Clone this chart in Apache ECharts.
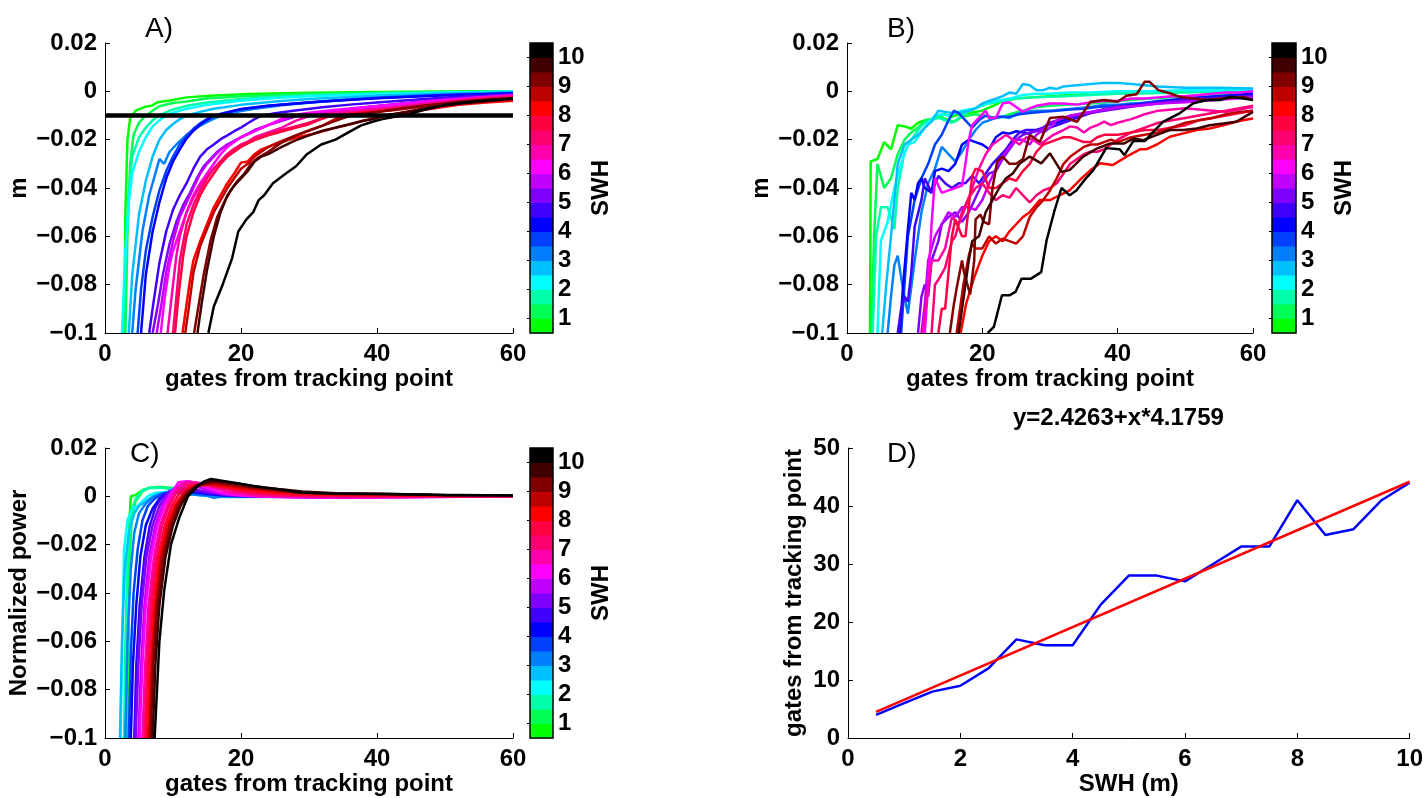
<!DOCTYPE html>
<html><head><meta charset="utf-8">
<script src="https://cdn.jsdelivr.net/npm/echarts@6/dist/echarts.min.js"></script>
<style>html,body{margin:0;padding:0;background:#fff}#c{width:1426px;height:798px}</style>
</head><body><div id="c"></div><script>
// ---------------- data ----------------
const SWH = [0.5,1,1.5,2,2.5,3,3.5,4,4.5,5,5.5,6,6.5,7,7.5,8,8.5,9,9.5,10];
const SWH_COLORS = ['#00ff00','#00ff55','#00ffaa','#00ffff','#00bfff','#0080ff','#0040ff','#0000ff','#4000ff','#8000ff',
  '#bf00ff','#ff00ff','#ff00aa','#ff0070','#ff0040','#ff0000','#bf0000','#800000','#400000','#000000'];
const CBAR_RANGE = [0.5, 10.5];
const CBAR_TICKS = [1,2,3,4,5,6,7,8,9,10];
const GATE_TICKS = [0,20,40,60];
const M_TICKS = [-0.1,-0.08,-0.06,-0.04,-0.02,0,0.02];
const THRESHOLD_LINE = [[0,-0.01],[60,-0.01]];

const A_CURVES = [
[[2.8,-0.1],[3.0,-0.05],[3.3,-0.02],[3.7,-0.011],[4.5,-0.008],[5.8,-0.0065],[7,-0.0058],[7.7,-0.0045],[9.5,-0.0038],[12,-0.0025],[15.4,-0.0018],[21,-0.0011],[30,-0.0006],[40,-0.0003],[50,-0.0001],[60,0]],
[[3.0,-0.1],[3.3,-0.06],[3.7,-0.03],[4.2,-0.018],[5,-0.013],[6,-0.01],[7,-0.008],[8,-0.0062],[10,-0.0048],[12,-0.0042],[15,-0.003],[20,-0.002],[30,-0.0011],[40,-0.0006],[50,-0.0003],[60,-0.0001]],
[[2.6,-0.1],[3,-0.07],[3.5,-0.042],[4,-0.027],[5,-0.019],[6,-0.015],[7,-0.012],[8,-0.01],[9,-0.0086],[10,-0.0075],[12,-0.006],[15,-0.0046],[20,-0.0032],[25,-0.0022],[30,-0.0016],[40,-0.0009],[50,-0.0004],[60,-0.0001]],
[[2.5,-0.1],[3,-0.066],[3.5,-0.046],[4,-0.034],[5,-0.025],[6,-0.019],[7,-0.0145],[8,-0.012],[9,-0.01],[10,-0.0088],[12,-0.0072],[15,-0.0056],[20,-0.0039],[25,-0.0028],[30,-0.002],[40,-0.0011],[50,-0.0006],[60,-0.0002]],
[[3.5,-0.1],[4,-0.076],[5,-0.051],[6,-0.037],[7,-0.027],[8,-0.02],[9,-0.016],[10,-0.0135],[11,-0.0115],[12,-0.01],[14,-0.0085],[16,-0.0072],[20,-0.0056],[25,-0.0042],[30,-0.0032],[40,-0.0018],[50,-0.0009],[60,-0.0004]],
[[4,-0.1],[4.5,-0.082],[5.5,-0.058],[6.5,-0.043],[7.5,-0.033],[8,-0.028],[8.7,-0.03],[9.5,-0.025],[10.5,-0.022],[12,-0.018],[13,-0.016],[14,-0.0142],[15.5,-0.012],[17,-0.01],[19,-0.0087],[22,-0.0072],[26,-0.0058],[30,-0.0047],[35,-0.0036],[40,-0.0026],[50,-0.0013],[60,-0.0006]],
[[4.8,-0.1],[5.3,-0.082],[6,-0.066],[7,-0.052],[8,-0.041],[9,-0.033],[10,-0.027],[11,-0.022],[12,-0.0185],[13,-0.0155],[14,-0.0132],[15,-0.0115],[16,-0.01],[18,-0.0086],[20,-0.0074],[24,-0.006],[28,-0.005],[32,-0.0041],[40,-0.0028],[50,-0.0015],[60,-0.0008]],
[[5.3,-0.1],[6,-0.076],[7,-0.058],[8,-0.046],[9,-0.036],[10,-0.029],[11,-0.024],[12,-0.0195],[13,-0.0163],[14,-0.0138],[15,-0.0118],[16,-0.0102],[18,-0.0087],[20,-0.0073],[24,-0.006],[28,-0.005],[32,-0.0042],[40,-0.0029],[50,-0.0016],[60,-0.0009]],
[[6.5,-0.1],[7.2,-0.086],[8,-0.071],[9,-0.058],[10,-0.049],[11,-0.043],[12,-0.038],[13,-0.032],[14,-0.027],[15,-0.024],[16,-0.022],[17,-0.0198],[18,-0.0182],[19,-0.0165],[20,-0.015],[21,-0.0132],[22,-0.0115],[23,-0.0101],[25,-0.0091],[28,-0.0079],[32,-0.0066],[36,-0.0055],[40,-0.0046],[45,-0.0036],[50,-0.0026],[60,-0.0012]],
[[7,-0.1],[7.8,-0.088],[8.5,-0.076],[9.5,-0.063],[10.5,-0.054],[11.5,-0.047],[12.5,-0.042],[13.5,-0.036],[14.5,-0.031],[15.5,-0.028],[16.5,-0.025],[18,-0.022],[20,-0.019],[22,-0.016],[24,-0.014],[26,-0.012],[28,-0.0102],[31,-0.0089],[35,-0.0076],[40,-0.0061],[45,-0.0046],[50,-0.0033],[55,-0.0023],[60,-0.0015]],
[[7.6,-0.1],[8.3,-0.088],[9,-0.075],[10,-0.062],[11,-0.052],[12,-0.046],[13,-0.04],[14,-0.034],[15,-0.03],[16,-0.027],[17,-0.024],[18,-0.022],[20,-0.019],[22,-0.0165],[24,-0.014],[26,-0.0122],[28,-0.0104],[31,-0.009],[35,-0.0077],[40,-0.0062],[45,-0.0048],[50,-0.0036],[55,-0.0026],[60,-0.0017]],
[[8.2,-0.1],[8.8,-0.085],[9.5,-0.072],[10,-0.066],[11,-0.058],[12,-0.05],[13,-0.043],[14,-0.038],[15,-0.034],[16,-0.03],[17,-0.026],[18,-0.023],[19,-0.021],[20,-0.019],[22,-0.0165],[24,-0.014],[25.5,-0.012],[27,-0.0102],[30,-0.0089],[34,-0.0076],[40,-0.0061],[45,-0.0048],[50,-0.0036],[55,-0.0026],[60,-0.0016]],
[[9.2,-0.1],[9.8,-0.085],[10.5,-0.068],[11,-0.06],[12,-0.05],[13,-0.044],[14,-0.039],[15,-0.035],[16,-0.032],[17,-0.029],[18,-0.026],[19,-0.024],[20,-0.022],[21,-0.021],[22,-0.019],[24,-0.017],[26,-0.015],[28,-0.0122],[30,-0.0102],[33,-0.0091],[37,-0.0079],[42,-0.0066],[47,-0.0051],[52,-0.0036],[56,-0.0026],[60,-0.0019]],
[[10,-0.1],[10.5,-0.085],[11,-0.07],[12,-0.055],[13,-0.047],[14,-0.041],[15,-0.036],[16,-0.032],[17,-0.029],[18,-0.026],[19,-0.0238],[20,-0.0222],[21,-0.0208],[22,-0.0195],[24,-0.0176],[26,-0.016],[28,-0.0145],[30,-0.013],[31.5,-0.0115],[33,-0.0101],[36,-0.0091],[40,-0.0079],[45,-0.0063],[50,-0.0046],[55,-0.0033],[60,-0.0023]],
[[10.3,-0.1],[10.8,-0.085],[11.5,-0.068],[12,-0.06],[13,-0.05],[14,-0.043],[15,-0.038],[16,-0.034],[17,-0.03],[18,-0.027],[19,-0.025],[20,-0.023],[21,-0.0215],[22,-0.0202],[24,-0.0182],[26,-0.0166],[28,-0.0151],[30,-0.0136],[31.5,-0.0118],[33,-0.0103],[36,-0.0093],[40,-0.0081],[45,-0.0066],[50,-0.0051],[55,-0.0038],[60,-0.0028]],
[[11.4,-0.1],[12,-0.088],[12.5,-0.078],[13,-0.07],[14,-0.062],[15,-0.055],[16,-0.048],[17,-0.043],[18,-0.038],[19,-0.034],[20,-0.0295],[21,-0.029],[22,-0.026],[23,-0.024],[24,-0.023],[26,-0.021],[28,-0.0192],[30,-0.018],[32,-0.0165],[34,-0.015],[36,-0.0136],[38,-0.0122],[40,-0.0109],[41,-0.0101],[44,-0.0088],[48,-0.0072],[52,-0.0056],[56,-0.0046],[60,-0.0039]],
[[11.8,-0.1],[12.3,-0.09],[13,-0.075],[14,-0.064],[15,-0.057],[16,-0.05],[17,-0.045],[18,-0.04],[19,-0.036],[20,-0.032],[21,-0.03],[22,-0.027],[23,-0.025],[24,-0.023],[26,-0.0205],[28,-0.0183],[30,-0.0162],[32,-0.0142],[34,-0.0113],[35,-0.0101],[38,-0.009],[42,-0.0079],[46,-0.0066],[50,-0.0052],[55,-0.0039],[60,-0.0031]],
[[13.1,-0.1],[13.8,-0.088],[14.5,-0.076],[15.5,-0.062],[16.5,-0.052],[17.5,-0.046],[18.5,-0.041],[19.5,-0.037],[20.5,-0.034],[21.5,-0.03],[22.5,-0.0275],[24,-0.025],[26,-0.0212],[28,-0.0183],[30,-0.0162],[32,-0.0142],[34,-0.0121],[36,-0.0101],[40,-0.0086],[44,-0.0069],[48,-0.0056],[52,-0.0043],[56,-0.0034],[60,-0.0028]],
[[13.6,-0.1],[14.2,-0.088],[15,-0.074],[16,-0.06],[17,-0.05],[18,-0.043],[19,-0.039],[20,-0.036],[21,-0.033],[22,-0.029],[23,-0.027],[24,-0.026],[26,-0.023],[28,-0.0203],[30,-0.0182],[32,-0.0163],[34,-0.015],[36,-0.0136],[38,-0.0122],[40,-0.0111],[41,-0.0101],[44,-0.0086],[48,-0.0066],[52,-0.0051],[56,-0.0041],[60,-0.0031]],
[[15.2,-0.1],[16,-0.089],[17.3,-0.08],[18.7,-0.069],[19.6,-0.058],[20.8,-0.053],[21.8,-0.05],[22.6,-0.045],[23.4,-0.043],[24.7,-0.038],[26.6,-0.034],[28.1,-0.031],[29.7,-0.026],[31.8,-0.022],[33.9,-0.02],[35.8,-0.017],[37.6,-0.0142],[39.2,-0.0127],[40.8,-0.0115],[42.4,-0.0106],[44,-0.0099],[47,-0.0076],[50,-0.0056],[54,-0.0043],[57,-0.0036],[60,-0.0031]]
];

const B_CURVES = [
[[3.4,-0.1],[3.5,-0.029],[4.5,-0.028],[5.5,-0.021],[6.5,-0.024],[7.5,-0.014],[8.5,-0.0145],[9.5,-0.0155],[10.5,-0.013],[11.5,-0.012],[12.5,-0.0115],[13.5,-0.01],[14.5,-0.0095],[15.5,-0.0105],[16.5,-0.0095],[18,-0.009],[19,-0.0085],[20,-0.008],[22,-0.0055],[23,-0.004],[25,-0.003],[27,-0.0025],[30,-0.002],[33,-0.0015],[36,-0.001],[40,-0.0008],[45,-0.0005],[50,-0.0002],[55,0],[60,0.0005]],
[[3.6,-0.1],[4,-0.06],[4.5,-0.03],[5.5,-0.04],[6.5,-0.036],[7.5,-0.026],[8.5,-0.02],[9.5,-0.017],[10.5,-0.015],[11.5,-0.012],[12.5,-0.0115],[13.5,-0.01],[15,-0.012],[16,-0.0125],[17,-0.0105],[18,-0.01],[19,-0.0095],[20,-0.01],[21,-0.0105],[22,-0.011],[23,-0.0105],[24,-0.0095],[26,-0.008],[28,-0.0065],[30,-0.006],[33,-0.0055],[36,-0.005],[40,-0.004],[45,-0.003],[50,-0.002],[55,-0.001],[60,0]],
[[3.8,-0.1],[4.3,-0.06],[5,-0.048],[6,-0.048],[7,-0.057],[7.5,-0.04],[8.5,-0.025],[9.5,-0.02],[10.5,-0.016],[11.5,-0.013],[12.5,-0.012],[13.5,-0.011],[14.5,-0.012],[15.5,-0.013],[16.5,-0.011],[17.5,-0.009],[19,-0.007],[21,-0.005],[23,-0.004],[25,-0.003],[28,-0.0025],[32,-0.002],[36,-0.0015],[40,-0.001],[45,-0.0008],[50,-0.0005],[55,0],[60,0.0005]],
[[4.5,-0.1],[5,-0.062],[6,-0.054],[7,-0.04],[8,-0.03],[9,-0.022],[10,-0.021],[11,-0.017],[12,-0.013],[13,-0.01],[14,-0.0095],[15,-0.01],[16,-0.009],[17,-0.008],[18,-0.0075],[19,-0.007],[20,-0.0055],[22,-0.004],[24,-0.003],[26,-0.0015],[28,-0.001],[30,-0.001],[33,-0.0005],[36,-0.0005],[40,0],[45,0],[50,0.0005],[55,0.0005],[60,0.0005]],
[[5.2,-0.1],[5.8,-0.08],[6.5,-0.06],[7.5,-0.03],[8.5,-0.022],[9.5,-0.02],[10.5,-0.018],[11.5,-0.015],[12.5,-0.0125],[13.5,-0.008],[14.5,-0.0085],[15.5,-0.009],[16.5,-0.009],[18,-0.008],[19,-0.007],[20,-0.005],[21,-0.004],[22,-0.003],[23,-0.002],[24,-0.0005],[25,-0.001],[26,0.003],[27,0.0025],[28,0.0005],[29,0.0005],[30,0.0015],[31,0.001],[32,0.002],[34,0.0025],[36,0.003],[38,0.0035],[40,0.0035],[42,0.003],[44,0.0025],[46,0.002],[50,0.0015],[55,0.0015],[60,0.0012]],
[[6,-0.1],[6.5,-0.085],[7,-0.072],[7.5,-0.068],[8,-0.077],[8.5,-0.085],[9,-0.092],[10,-0.07],[11,-0.05],[12,-0.038],[13,-0.032],[14,-0.023],[15,-0.026],[16,-0.029],[17,-0.025],[18,-0.02],[19,-0.016],[20,-0.013],[21,-0.012],[22,-0.011],[23,-0.0105],[24,-0.011],[25,-0.0095],[26,-0.0085],[28,-0.008],[30,-0.008],[32,-0.0075],[34,-0.007],[36,-0.0065],[38,-0.0055],[40,-0.0055],[42,-0.005],[44,-0.005],[46,-0.0045],[48,-0.004],[50,-0.003],[55,-0.002],[60,-0.001]],
[[8,-0.1],[9,-0.06],[10,-0.045],[11,-0.036],[12,-0.03],[13,-0.022],[14,-0.018],[15,-0.012],[15.8,-0.008],[16.5,-0.009],[17.5,-0.012],[18.5,-0.015],[19.5,-0.012],[20.5,-0.01],[21.5,-0.011],[22.5,-0.0105],[24,-0.0105],[25.5,-0.0095],[27,-0.009],[29,-0.0085],[31,-0.008],[33,-0.0075],[35,-0.0072],[37,-0.0065],[40,-0.006],[43,-0.005],[46,-0.004],[50,-0.003],[55,-0.002],[60,-0.0012]],
[[7.8,-0.1],[8.3,-0.08],[9,-0.057],[9.5,-0.042],[10,-0.045],[10.5,-0.038],[11,-0.036],[11.5,-0.04],[12.5,-0.042],[13,-0.033],[14,-0.032],[15,-0.033],[16,-0.03],[17,-0.022],[18,-0.02],[19,-0.021],[20,-0.022],[21,-0.024],[22,-0.019],[23,-0.017],[24,-0.0175],[25,-0.0165],[26,-0.017],[27,-0.0175],[28,-0.016],[29,-0.015],[30,-0.0135],[31,-0.013],[32,-0.012],[33,-0.011],[35,-0.0095],[37,-0.008],[40,-0.0065],[43,-0.0055],[46,-0.0045],[50,-0.003],[55,-0.002],[60,-0.001]],
[[7.5,-0.1],[8,-0.09],[8.5,-0.085],[9,-0.087],[9.5,-0.075],[10,-0.056],[11,-0.045],[11.5,-0.036],[12.5,-0.042],[13.5,-0.035],[14.5,-0.038],[15.5,-0.04],[16.5,-0.038],[17.5,-0.038],[18.5,-0.035],[19.5,-0.038],[20.5,-0.034],[21.5,-0.03],[22.5,-0.027],[23.5,-0.024],[24.5,-0.02],[25.5,-0.017],[26.5,-0.016],[28,-0.016],[29,-0.017],[30,-0.015],[32,-0.013],[34,-0.011],[36,-0.009],[38,-0.0075],[40,-0.0065],[43,-0.0055],[46,-0.0045],[50,-0.0035],[55,-0.0025],[60,-0.0018]],
[[10.5,-0.1],[11,-0.085],[11.5,-0.08],[12,-0.085],[12.5,-0.07],[13.5,-0.062],[14,-0.055],[15,-0.052],[16,-0.05],[17,-0.054],[18,-0.05],[19,-0.044],[20,-0.038],[21,-0.034],[22,-0.033],[23,-0.028],[24,-0.024],[25,-0.02],[26,-0.018],[27,-0.017],[28,-0.0165],[29,-0.015],[30,-0.013],[31,-0.012],[32,-0.011],[33,-0.0105],[34,-0.01],[36,-0.009],[38,-0.008],[40,-0.0072],[43,-0.006],[46,-0.005],[50,-0.004],[55,-0.003],[60,-0.002]],
[[11,-0.1],[11.5,-0.088],[12,-0.07],[13,-0.06],[14,-0.055],[15,-0.05],[16,-0.052],[17,-0.048],[18,-0.048],[19,-0.049],[20,-0.045],[21,-0.038],[22,-0.032],[23,-0.027],[24,-0.023],[25,-0.02],[26,-0.02],[27,-0.022],[28,-0.018],[29,-0.016],[30,-0.015],[31,-0.012],[32,-0.011],[33,-0.01],[35,-0.009],[37,-0.008],[40,-0.0065],[43,-0.006],[46,-0.005],[50,-0.0045],[55,-0.0035],[60,-0.0025]],
[[11.5,-0.1],[12,-0.08],[12.5,-0.055],[13,-0.036],[14,-0.042],[15,-0.041],[16,-0.04],[17,-0.039],[17.5,-0.03],[18,-0.02],[18.5,-0.014],[19.5,-0.011],[20.5,-0.008],[21,-0.011],[22,-0.011],[23,-0.005],[24,-0.0045],[25,-0.0065],[26,-0.0085],[27,-0.007],[28,-0.006],[30,-0.005],[32,-0.005],[34,-0.0055],[36,-0.0045],[38,-0.004],[40,-0.004],[42,-0.003],[44,-0.003],[46,-0.0025],[48,-0.002],[50,-0.002],[52,-0.0015],[54,-0.001],[56,-0.0005],[58,-0.0005],[60,0]],
[[11.2,-0.1],[11.8,-0.085],[12.5,-0.07],[13.5,-0.07],[14.5,-0.065],[15.5,-0.052],[16.5,-0.055],[17.5,-0.048],[18.5,-0.04],[19.5,-0.032],[20.5,-0.026],[21.5,-0.022],[22.5,-0.02],[23.5,-0.018],[24.5,-0.02],[25.5,-0.022],[26.5,-0.019],[27.5,-0.02],[28.5,-0.022],[29.5,-0.02],[30.5,-0.018],[32,-0.016],[33,-0.0145],[34,-0.015],[35,-0.017],[36,-0.015],[37,-0.014],[38,-0.0125],[39,-0.014],[40,-0.013],[42,-0.0115],[44,-0.0095],[46,-0.008],[48,-0.0075],[50,-0.007],[52,-0.0075],[54,-0.008],[56,-0.0085],[58,-0.0075],[60,-0.0065]],
[[12.5,-0.1],[13,-0.08],[13.5,-0.078],[14.5,-0.073],[15.5,-0.062],[16,-0.06],[17,-0.05],[18,-0.044],[19,-0.04],[20,-0.038],[21,-0.042],[22,-0.045],[23,-0.043],[24,-0.044],[25,-0.04],[26,-0.043],[27,-0.046],[28,-0.043],[29,-0.041],[30,-0.04],[31,-0.038],[32,-0.034],[33,-0.03],[34,-0.028],[35,-0.026],[36,-0.025],[37,-0.025],[38,-0.024],[39,-0.022],[40,-0.02],[42,-0.017],[44,-0.015],[46,-0.013],[48,-0.012],[50,-0.011],[52,-0.01],[54,-0.009],[56,-0.008],[58,-0.007],[60,-0.006]],
[[13.5,-0.1],[14,-0.09],[14.5,-0.09],[15,-0.075],[15.5,-0.06],[16,-0.053],[17,-0.06],[17.5,-0.06],[18.5,-0.035],[19,-0.032],[20,-0.033],[21,-0.04],[22,-0.04],[23,-0.038],[24,-0.036],[25,-0.037],[26,-0.033],[27,-0.03],[28,-0.025],[29,-0.022],[30,-0.021],[31,-0.02],[32,-0.019],[33,-0.019],[34,-0.02],[35,-0.021],[36,-0.021],[37,-0.019],[38,-0.018],[40,-0.018],[42,-0.017],[44,-0.016],[46,-0.016],[48,-0.015],[50,-0.014],[52,-0.012],[54,-0.011],[56,-0.01],[58,-0.009],[60,-0.008]],
[[16.8,-0.1],[17.6,-0.088],[18.8,-0.077],[20,-0.068],[21,-0.062],[22,-0.06],[23,-0.062],[24,-0.058],[25,-0.055],[26,-0.052],[27,-0.05],[28.5,-0.045],[30,-0.045],[31.4,-0.043],[32.9,-0.041],[34.4,-0.0367],[36,-0.0326],[37.4,-0.0298],[39.3,-0.0305],[41.3,-0.027],[43.3,-0.024],[44.2,-0.024],[45.8,-0.022],[47.7,-0.0188],[49.7,-0.0174],[51.7,-0.016],[53.6,-0.0154],[55.6,-0.014],[57.5,-0.0126],[58.5,-0.012],[60,-0.0112]],
[[16.2,-0.1],[16.7,-0.09],[17.2,-0.08],[18,-0.068],[18.5,-0.063],[19,-0.065],[20,-0.065],[21,-0.06],[22,-0.063],[23,-0.061],[24,-0.062],[25,-0.063],[26,-0.06],[27,-0.052],[28,-0.048],[29,-0.045],[30,-0.041],[31,-0.036],[32,-0.03],[33,-0.027],[34,-0.025],[35,-0.023],[36,-0.022],[37,-0.022],[38,-0.021],[39,-0.02],[40,-0.021],[41,-0.02],[42,-0.019],[44,-0.018],[46,-0.017],[48,-0.015],[50,-0.013],[52,-0.012],[54,-0.011],[56,-0.0095],[58,-0.0085],[60,-0.008]],
[[15.2,-0.1],[15.8,-0.088],[16.3,-0.08],[17,-0.07],[17.3,-0.075],[18.2,-0.084],[18.8,-0.07],[19,-0.053],[19.7,-0.051],[20.2,-0.054],[21,-0.055],[21.5,-0.04],[22.2,-0.029],[23,-0.027],[24,-0.03],[25,-0.03],[26,-0.028],[27,-0.018],[28.5,-0.021],[30,-0.011],[32,-0.0105],[34,-0.0126],[36,-0.0043],[38,-0.0036],[40,-0.0043],[41.3,-0.0018],[42.8,-0.0012],[44,0.004],[44.7,0.004],[46,0.0005],[47.7,-0.0008],[49.2,-0.0023],[51.2,-0.003],[53.2,-0.0036],[55.1,-0.003],[58.6,-0.0023],[60,-0.0036]],
[[16.5,-0.1],[17,-0.09],[17.5,-0.08],[18,-0.07],[18.5,-0.062],[19.5,-0.06],[20.5,-0.05],[21.5,-0.045],[22.5,-0.04],[23.5,-0.036],[24.5,-0.034],[25.5,-0.03],[27,-0.027],[28.7,-0.0298],[30,-0.0257],[31.7,-0.0333],[32.9,-0.0326],[34.9,-0.027],[36.9,-0.0237],[38.9,-0.0216],[40.9,-0.0216],[42.4,-0.0195],[43.8,-0.0202],[45.8,-0.018],[47.7,-0.016],[49.7,-0.016],[51.7,-0.0154],[53.6,-0.014],[55.6,-0.0133],[57.5,-0.0126],[58.5,-0.011],[60,-0.0085]],
[[20.8,-0.1],[21.7,-0.0975],[22.9,-0.0844],[24,-0.0844],[24.9,-0.083],[25.8,-0.0775],[27.2,-0.0775],[28.7,-0.0748],[29.5,-0.0616],[30.7,-0.049],[31.7,-0.04],[32.9,-0.043],[33.9,-0.041],[35.1,-0.0367],[36.4,-0.0326],[38.3,-0.0235],[40.3,-0.024],[41,-0.0264],[42.3,-0.0206],[44,-0.0206],[45.3,-0.0167],[46.7,-0.0126],[49.2,-0.009],[51.2,-0.0049],[53.2,-0.0036],[55.1,-0.0036],[56.6,-0.0022],[58.6,-0.003],[60,-0.0036]]
];

const C_CURVES = [
[[3.4,-0.1],[3.5,-0.05],[3.6,-0.01],[3.8,0],[4.5,0.0005],[5.5,0.0025],[6.5,0.0035],[8,0.0038],[10,0.0032],[12,0.0025],[15,0.0015],[20,0.0008],[30,0.0003],[45,0.0001],[60,0]],
[[3.2,-0.1],[3.4,-0.06],[3.6,-0.025],[4,-0.008],[4.5,-0.002],[5.5,0.002],[6.5,0.0035],[8,0.004],[10,0.0035],[12,0.0025],[15,0.0015],[20,0.0008],[30,0.0003],[45,0.0001],[60,0]],
[[2.8,-0.1],[3,-0.06],[3.3,-0.025],[3.7,-0.008],[4.5,-0.001],[5.5,0.0025],[6.5,0.0035],[8,0.0035],[10,0.003],[12,0.002],[15,0.0012],[20,0.0006],[30,0.0002],[60,0]],
[[2.3,-0.1],[2.6,-0.05],[2.8,-0.022],[3.3,-0.01],[4,-0.005],[4.8,-0.004],[5.5,-0.002],[6.5,0.0005],[7.5,0.0015],[9,0.0018],[11,0.0015],[13,0.001],[16,0.0006],[20,0.0003],[30,0.0001],[60,0]],
[[2.2,-0.1],[2.5,-0.06],[2.9,-0.03],[3.5,-0.015],[4.3,-0.007],[5,-0.004],[6,-0.002],[7,0],[8,0.0012],[10,0.0015],[12,0.001],[14,0.0004],[16,0],[18,-0.0003],[22,-0.0003],[30,-0.0002],[45,0],[60,0]],
[[3.0,-0.1],[3.3,-0.06],[3.8,-0.03],[4.3,-0.015],[5,-0.007],[6,-0.003],[7,-0.0005],[8,0.0008],[9,0.0015],[11,0.0015],[13,0.0008],[15,0.0002],[16,-0.0006],[17,-0.0002],[20,-0.0002],[30,-0.0002],[45,0],[60,0]],
[[3.5,-0.1],[3.8,-0.065],[4.2,-0.04],[4.8,-0.022],[5.5,-0.01],[6.3,-0.004],[7.3,-0.001],[8.5,0.0012],[10,0.0018],[12,0.0018],[14,0.001],[17,0.0003],[20,0],[30,-0.0002],[45,0],[60,0]],
[[3.8,-0.1],[4.1,-0.07],[4.6,-0.045],[5.2,-0.025],[6,-0.012],[7,-0.005],[8,-0.001],[9,0.0012],[10.5,0.002],[12,0.002],[14,0.0015],[17,0.0006],[20,0.0002],[30,0],[60,0]],
[[4.3,-0.1],[4.6,-0.07],[5.1,-0.045],[5.8,-0.025],[6.6,-0.012],[7.5,-0.004],[8.5,0],[9.5,0.0022],[11,0.0028],[12.5,0.0025],[14.5,0.0015],[17,0.0006],[20,0.0001],[30,-0.0002],[60,0]],
[[4.5,-0.1],[4.9,-0.07],[5.4,-0.045],[6.1,-0.025],[7,-0.012],[8,-0.004],[9,0.0005],[10,0.0028],[11.5,0.0035],[13,0.003],[15,0.0018],[18,0.0006],[22,0],[30,-0.0004],[45,-0.0002],[60,0]],
[[4.9,-0.1],[5.3,-0.07],[5.8,-0.045],[6.5,-0.025],[7.4,-0.012],[8.4,-0.004],[9.4,0.0008],[10.5,0.0042],[12,0.0048],[13.5,0.004],[15.5,0.0022],[18,0.0008],[22,0],[30,-0.0005],[40,-0.0005],[50,-0.0002],[60,0]],
[[5.1,-0.1],[5.5,-0.07],[6,-0.045],[6.8,-0.025],[7.7,-0.012],[8.7,-0.004],[9.7,0.001],[10.8,0.0058],[12,0.0062],[13.5,0.0055],[15,0.0035],[17,0.0015],[20,0.0003],[25,-0.0003],[35,-0.0006],[45,-0.0004],[60,0]],
[[5.5,-0.1],[5.9,-0.07],[6.4,-0.045],[7.2,-0.025],[8.1,-0.012],[9.1,-0.004],[10.1,0.0015],[11.2,0.0052],[12.5,0.006],[14,0.0055],[16,0.0035],[18,0.0018],[21,0.0006],[25,0],[35,-0.0004],[45,-0.0002],[60,0]],
[[5.8,-0.1],[6.2,-0.07],[6.7,-0.045],[7.5,-0.025],[8.4,-0.012],[9.4,-0.004],[10.5,0.0015],[11.7,0.0045],[13,0.0052],[14.5,0.005],[16.5,0.0038],[19,0.0022],[22,0.001],[26,0.0003],[35,0],[60,0]],
[[6.0,-0.1],[6.4,-0.07],[7,-0.045],[7.8,-0.025],[8.8,-0.012],[9.8,-0.004],[10.9,0.001],[12.2,0.004],[13.7,0.0048],[15.3,0.0048],[17.5,0.0038],[20,0.0025],[23,0.0015],[27,0.0008],[35,0.0003],[60,0.0001]],
[[6.3,-0.1],[6.7,-0.07],[7.3,-0.045],[8.1,-0.025],[9.1,-0.012],[10.2,-0.004],[11.3,0.0005],[12.6,0.0035],[14,0.0045],[15.5,0.005],[17.5,0.0042],[20,0.003],[23,0.0022],[27,0.0014],[32,0.0008],[40,0.0005],[50,0.0003],[60,0.0002]],
[[6.5,-0.1],[6.9,-0.07],[7.5,-0.045],[8.3,-0.025],[9.4,-0.012],[10.5,-0.004],[11.6,0.0008],[12.9,0.0038],[14.3,0.0048],[15.8,0.0052],[18,0.0045],[21,0.0033],[24,0.0024],[28,0.0015],[33,0.001],[40,0.0007],[50,0.0004],[60,0.0003]],
[[6.7,-0.1],[7.1,-0.07],[7.7,-0.045],[8.6,-0.025],[9.7,-0.012],[10.8,-0.004],[11.9,0.0008],[13.2,0.004],[14.6,0.0052],[16,0.0058],[18.5,0.005],[21.5,0.0038],[25,0.0027],[28,0.0018],[33,0.0012],[40,0.0009],[50,0.0005],[60,0.0004]],
[[7.0,-0.1],[7.4,-0.07],[8,-0.045],[8.9,-0.025],[10,-0.012],[11.1,-0.004],[12.2,0.001],[13.5,0.0045],[15,0.006],[16.3,0.0064],[19,0.0055],[22,0.0042],[25.5,0.003],[29,0.002],[34,0.0013],[41,0.001],[50,0.0006],[60,0.0004]],
[[7.3,-0.1],[8,-0.06],[8.7,-0.039],[9.7,-0.02],[10.9,-0.009],[12.2,0],[13.9,0.0048],[14.6,0.0062],[15.6,0.0072],[16.5,0.0068],[18.8,0.0057],[21.8,0.0043],[23.8,0.0035],[26.7,0.0025],[28.7,0.0016],[33.5,0.0012],[40.9,0.0011],[48.2,0.0007],[60,0.0003]]
];

const D_SWH = [0.5,1,1.5,2,2.5,3,3.5,4,4.5,5,5.5,6,6.5,7,7.5,8,8.5,9,9.5,10];
const D_GATES = [4,6,8,9,12,17,16,16,23,28,28,27,30,33,33,41,35,36,41,44];
const D_FIT_X = [0.5, 10];
const D_FIT_Y = [4.51, 44.18];
const D_X_TICKS = [0,2,4,6,8,10];
const D_Y_TICKS = [0,10,20,30,40,50];

// ---------------- chart ----------------
const FONT = "'Liberation Sans', Arial, Helvetica, sans-serif";
const TXT = {color:'#000', fontFamily:FONT, fontWeight:'bold', fontSize:24};
const fmt = v => String(Math.round(v*1000)/1000).replace('-', '\u2212');

const grids = [
  {left:105, top:43, width:408, height:290},   // A
  {left:530, top:43, width:23, height:290},    // A colorbar
  {left:847, top:43, width:406, height:290},   // B
  {left:1272, top:43, width:24, height:290},   // B colorbar
  {left:105, top:448, width:408, height:290},  // C
  {left:530, top:448, width:23, height:290},   // C colorbar
  {left:848, top:448, width:562, height:290}   // D
];

function valX(gi, min, max, interval, name) {
  return {type:'value', gridIndex:gi, min, max, interval,
    axisLine:{show:true, onZero:false, lineStyle:{color:'#000', width:1}},
    axisTick:{show:true, inside:true, length:5, lineStyle:{color:'#000'}},
    axisLabel:{...TXT, margin:9, formatter:fmt},
    splitLine:{show:false},
    name, nameLocation:'middle', nameGap:33, nameTextStyle:{...TXT}};
}
function valY(gi, min, max, interval, name, gap) {
  return {type:'value', gridIndex:gi, min, max, interval,
    axisLine:{show:true, onZero:false, lineStyle:{color:'#000', width:1}},
    axisTick:{show:true, inside:true, length:5, lineStyle:{color:'#000'}},
    axisLabel:{...TXT, margin:8, formatter:fmt},
    splitLine:{show:false},
    name, nameLocation:'middle', nameGap:gap, nameRotate:90, nameTextStyle:{...TXT}};
}
function cbX(gi){ return {type:'value', gridIndex:gi, min:0, max:1, show:false}; }
function cbY(gi){
  return {type:'value', gridIndex:gi, min:CBAR_RANGE[0], max:CBAR_RANGE[1], position:'right',
    axisLine:{show:false},
    axisTick:{show:true, inside:true, length:3, customValues:CBAR_TICKS, lineStyle:{color:'#000'}},
    axisLabel:{...TXT, margin:5, customValues:CBAR_TICKS, formatter:v=>String(v)},
    splitLine:{show:false},
    name:'SWH', nameLocation:'middle', nameGap:36, nameRotate:90, nameTextStyle:{...TXT}};
}

const xAxis = [
  valX(0,0,60,20,'gates from tracking point'), cbX(1),
  valX(2,0,60,20,'gates from tracking point'), cbX(3),
  valX(4,0,60,20,'gates from tracking point'), cbX(5),
  valX(6,0,10,2,'SWH (m)')
];
const yAxis = [
  valY(0,-0.1,0.02,0.02,'m',74), cbY(1),
  valY(2,-0.1,0.02,0.02,'m',74), cbY(3),
  valY(4,-0.1,0.02,0.02,'Normalized power',74), cbY(5),
  valY(6,0,50,10,'gates from tracking point',42)
];

const series = [];
function addCurves(curves, ai) {
  curves.forEach((pts, i) => {
    series.push({type:'line', xAxisIndex:ai, yAxisIndex:ai, data:pts, showSymbol:false, symbol:'none',
      clip:true, lineStyle:{color:SWH_COLORS[i], width:2.5}, z:2+i*0.01, silent:true, name:'SWH '+SWH[i]});
  });
}
addCurves(A_CURVES, 0);
addCurves(B_CURVES, 2);
addCurves(C_CURVES, 4);
series.push({type:'line', xAxisIndex:0, yAxisIndex:0, data:THRESHOLD_LINE, showSymbol:false, symbol:'none',
  lineStyle:{color:'#000', width:4.5}, z:5, silent:true});

const bands = SWH.map(s => [0, s, s + 0.5]);
[1,3,5].forEach(ai => {
  series.push({type:'custom', xAxisIndex:ai, yAxisIndex:ai, data:bands, encode:{x:0, y:[1,2]}, silent:true,
    renderItem:(params, api) => {
      const lo = api.value(1), hi = api.value(2);
      const p0 = api.coord([0, lo]), p1 = api.coord([1, hi]);
      const children = [{type:'rect', shape:{x:p0[0], y:p1[1], width:p1[0]-p0[0], height:p0[1]-p1[1]+0.5},
        style:{fill:SWH_COLORS[params.dataIndex]}}];
      if (params.dataIndex === bands.length - 1) {
        const b0 = api.coord([0, CBAR_RANGE[0]]), b1 = api.coord([1, CBAR_RANGE[1]]);
        children.push({type:'rect', shape:{x:b0[0], y:b1[1], width:b1[0]-b0[0], height:b0[1]-b1[1]},
          style:{fill:null, stroke:'#000', lineWidth:1.5}});
      }
      return {type:'group', children};
    }});
});

series.push({type:'line', xAxisIndex:6, yAxisIndex:6, data:D_SWH.map((s,i)=>[s, D_GATES[i]]), showSymbol:false,
  symbol:'none', lineStyle:{color:'#0000ff', width:2.5}, silent:true});
series.push({type:'line', xAxisIndex:6, yAxisIndex:6, data:D_FIT_X.map((s,i)=>[s, D_FIT_Y[i]]), showSymbol:false,
  symbol:'none', lineStyle:{color:'#ff0000', width:2.5}, silent:true, z:3});

const LBL = {fill:'#000', fontFamily:FONT, fontSize:28, fontWeight:'normal'};
const graphic = [
  {type:'text', left:145, top:15, style:{...LBL, text:'A)'}},
  {type:'text', left:887, top:15, style:{...LBL, text:'B)'}},
  {type:'text', left:130, top:440, style:{...LBL, text:'C)'}},
  {type:'text', left:887, top:440, style:{...LBL, text:'D)'}},
  {type:'text', left:1013, top:406, style:{fill:'#000', fontFamily:FONT, fontSize:24, fontWeight:'bold', text:'y=2.4263+x*4.1759'}}
];

const chart = echarts.init(document.getElementById('c'), null, {renderer:'canvas'});
chart.setOption({animation:false, backgroundColor:'#fff', grid:grids, xAxis, yAxis, series, graphic});
</script></body></html>
